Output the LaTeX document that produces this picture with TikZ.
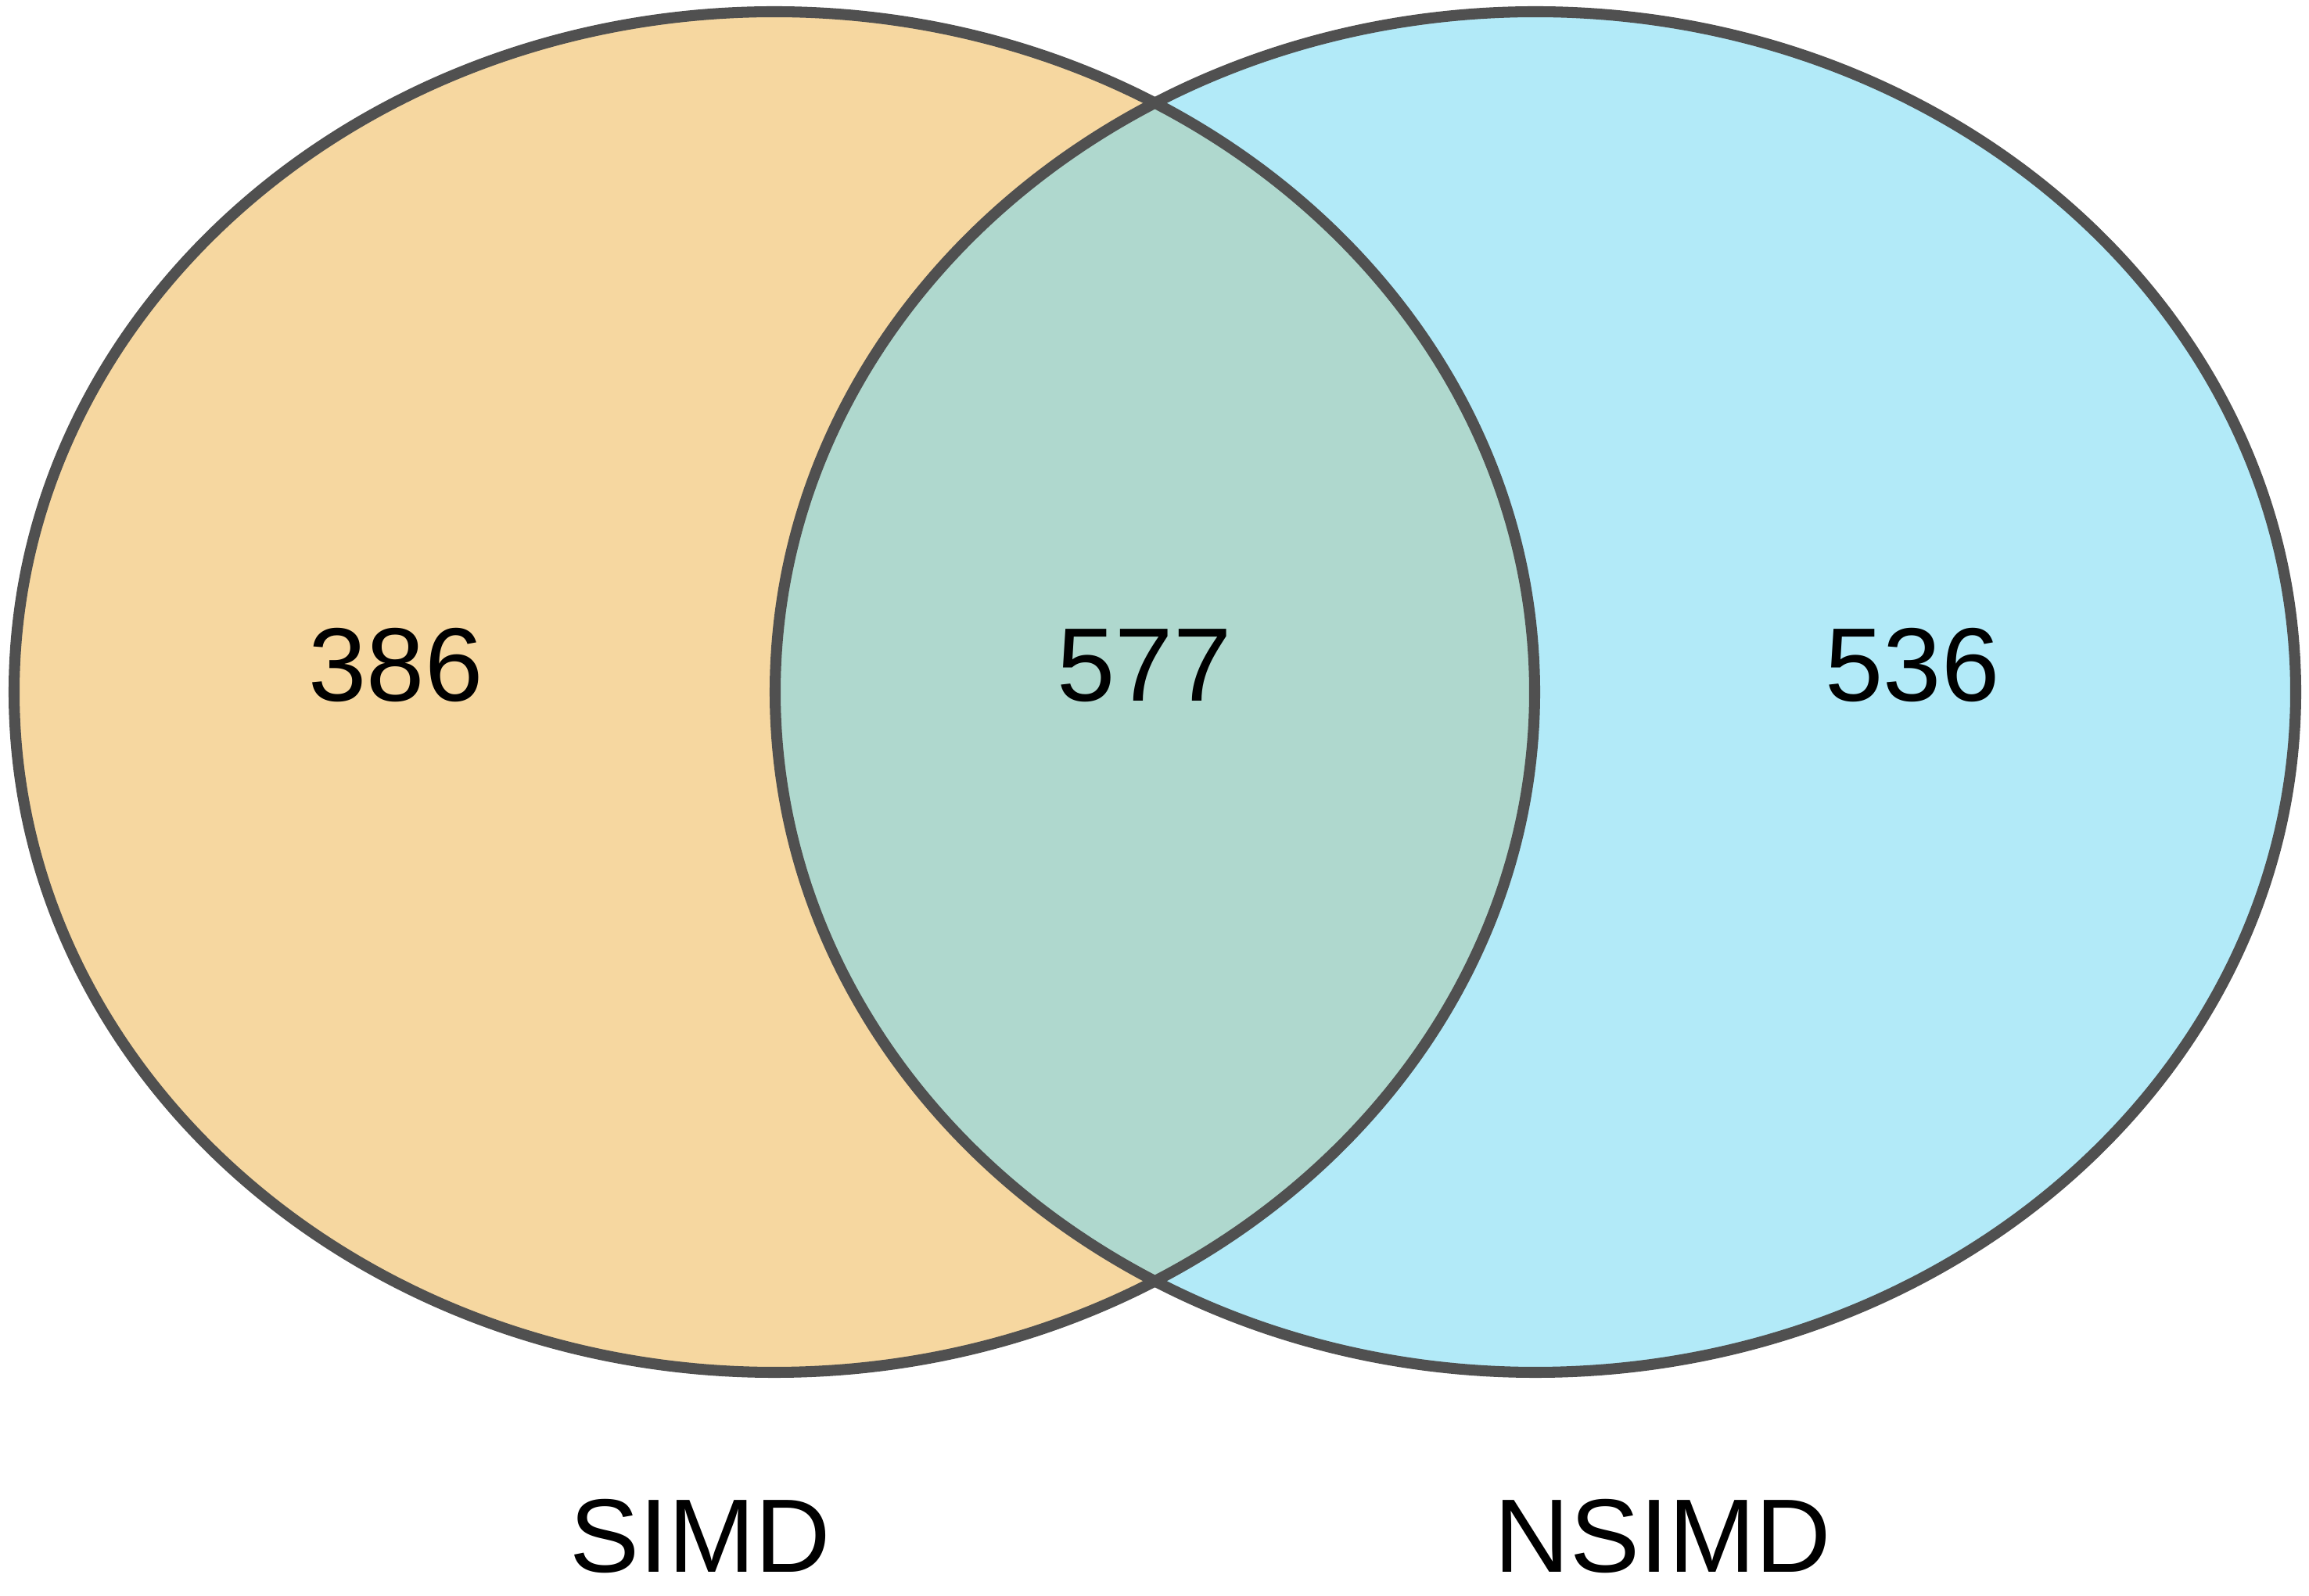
\documentclass[tikz,border=0pt]{standalone}
\usepackage{fontspec}
\setmainfont{Liberation Sans}
\definecolor{edgegrey}{RGB}{80, 80, 80}
\definecolor{wheat}{RGB}{246, 215, 160}
\definecolor{paleblue}{RGB}{178, 234, 248}
\definecolor{seagreen}{RGB}{175, 216, 206}

\begin{document}
\begin{tikzpicture}
  [
    outline/.style={line width=4pt, draw=edgegrey},
    simd/.style={fill=wheat},
    nsimd/.style={fill=paleblue},
    both/.style={fill=seagreen},
    count/.style={anchor=base, inner sep=0pt, font=\fontsize{38}{45}\selectfont},
    setname/.style={count}
  ]
  \useasboundingbox (0, 0) rectangle (29.52, 20.40);

  \fill[simd]  (9.90, 11.55)  ellipse[x radius=9.72cm, y radius=8.70cm];
  \fill[nsimd] (19.63, 11.55) ellipse[x radius=9.72cm, y radius=8.70cm];
  \begin{scope}
    \clip (9.90, 11.55) ellipse[x radius=9.72cm, y radius=8.70cm];
    \fill[both] (19.63, 11.55) ellipse[x radius=9.72cm, y radius=8.70cm];
  \end{scope}
  \draw[outline] (9.90, 11.55)  ellipse[x radius=9.72cm, y radius=8.70cm];
  \draw[outline] (19.63, 11.55) ellipse[x radius=9.72cm, y radius=8.70cm];

  \node[count] (onlysimd)  at (5.06, 11.43)  {386};
  \node[count] (common)    at (14.63, 11.43) {577};
  \node[count] (onlynsimd) at (24.45, 11.43) {536};

  \node[setname] (simdname)  at (8.95, 0.30)  {SIMD};
  \node[setname] (nsimdname) at (21.26, 0.30) {NSIMD};
\end{tikzpicture}
\end{document}
